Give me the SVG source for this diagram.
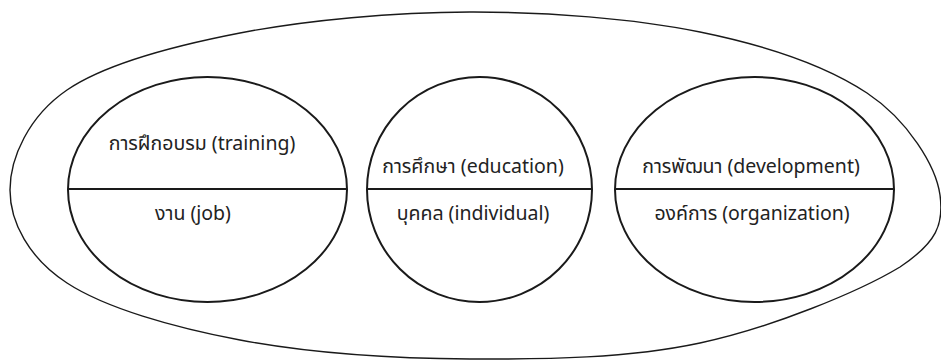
<svg xmlns="http://www.w3.org/2000/svg" width="941" height="360" viewBox="0 0 941 360">
<style>
.outer{fill:none;stroke:#1a1a1a;stroke-width:1.4}
.node{fill:none;stroke:#1a1a1a;stroke-width:2}
.div{stroke:#1a1a1a;stroke-width:2.2}
text{font-family:"Noto Sans Thai","Noto Sans","DejaVu Sans",sans-serif;font-size:19.5px;fill:#222;text-anchor:middle}
</style>
<rect width="941" height="360" fill="#fff"/>
<g id="outer">
<path class="outer" d="M10,190 C10,157.8 28.7,116.2 67,90 C105.3,63.8 172.8,46 240,33 C307.2,20 393.3,12.2 470,12 C546.7,11.8 633.8,18.5 700,32 C766.2,45.5 826,65.8 867,93 C908,120.2 936,166 940,195 C944,224 937,242.3 900,267 C859,291.7 771.7,327.7 700,343 C628.3,358.3 546.7,359.5 470,359 C393.3,358.5 307.2,352.7 240,340 C172.8,327.3 105.3,308 67,283 C28.7,258 10,222.2 10,190 Z"/>
</g>
<g id="training-job">
<ellipse class="node" cx="207.5" cy="189.5" rx="139.5" ry="112.5"/>
<line class="div" x1="68" y1="189" x2="347" y2="189"/>
<text x="202" y="150">การฝึกอบรม (training)</text>
<text x="193" y="220">งาน (job)</text>
</g>
<g id="education-individual">
<ellipse class="node" cx="479.5" cy="189.5" rx="112.5" ry="112.5"/>
<line class="div" x1="367" y1="189" x2="592" y2="189"/>
<text x="473" y="173">การศึกษา (education)</text>
<text x="473" y="220">บุคคล (individual)</text>
</g>
<g id="development-organization">
<ellipse class="node" cx="754.5" cy="189.5" rx="139.5" ry="112.5"/>
<line class="div" x1="615" y1="189" x2="894" y2="189"/>
<text x="751" y="173">การพัฒนา (development)</text>
<text x="752" y="220">องค์การ (organization)</text>
</g>
<g id="connectors"></g>
</svg>
